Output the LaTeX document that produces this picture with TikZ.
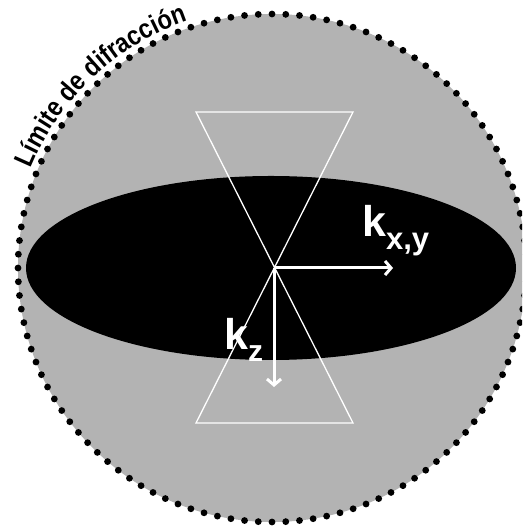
\documentclass[tikz,border=0pt]{standalone}
\usepackage{fontspec}
\setmainfont{Liberation Sans}
\newfontface\arcfont[FakeStretch=0.87]{Liberation Sans Bold}
\usetikzlibrary{arrows.meta,decorations.text}
\definecolor{disk}{RGB}{179,179,179}
\begin{document}
\begin{tikzpicture}[x=1pt,y=1pt,
  dotring/.style={black, line width=6.8pt, line cap=round, dash pattern=on 0pt off 13.76pt},
  coneline/.style={white, line width=1.3pt, line join=miter},
  karrow/.style={white, line width=3pt, -{Straight Barb[length=6pt,width=14pt,line width=3pt]}},
  klabel/.style={white, inner sep=0pt, anchor=base west, font=\bfseries\fontsize{43}{43}\selectfont}]
\clip (0,0) rectangle (522,526);
\useasboundingbox (0,0) rectangle (522,526);
\fill[white] (0,0) rectangle (522,526);
\coordinate (c) at (272,258);
\fill[disk] (c) circle (254);
\draw[dotring] (c) circle (254);
\fill[black] (271,258) ellipse [x radius=245, y radius=92];
\draw[coneline] (196,414) -- (353,414) -- (196,103) -- (353,103) -- cycle;
\coordinate (o) at (274,258);
\coordinate (tx) at (393,258);
\coordinate (tz) at (274,139);
\draw[karrow] (o) -- (tx);
\draw[karrow] (o) -- (tz);
\node[klabel] (kxy) at (362,289) {k\raisebox{-13pt}{\fontsize{31}{31}\selectfont x,y}};
\node[klabel] (kz) at (224,176) {k\raisebox{-12pt}{\fontsize{30}{30}\selectfont z}};
\path[decorate, decoration={text along path, text={|\arcfont\fontsize{27}{30}\selectfont|Límite de difracción}, text align=left}]
  (c) ++(157.5:261) arc[start angle=157.5, end angle=95, radius=261];
\end{tikzpicture}
\end{document}
